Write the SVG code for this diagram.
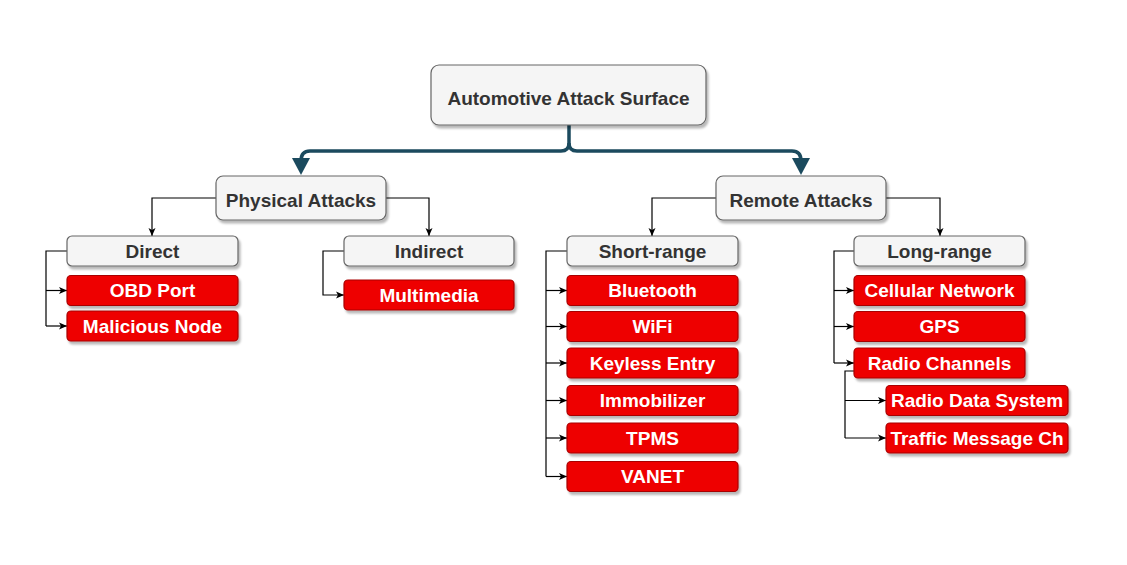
<svg xmlns="http://www.w3.org/2000/svg" width="1127" height="565" viewBox="0 0 1127 565">
<defs>
<filter id="sh" x="-10%" y="-20%" width="130%" height="160%">
<feDropShadow dx="2" dy="3" stdDeviation="1.2" flood-color="#000" flood-opacity="0.28"/>
</filter>
<marker id="ar" markerWidth="8" markerHeight="8" viewBox="0 0 8 8" refX="8" refY="4" orient="auto" markerUnits="userSpaceOnUse">
<path d="M0,0.5 L8,4 L0,7.5 L2,4 Z" fill="#000"/>
</marker>
</defs>
<style>
.g{fill:#f5f5f5;stroke:#666;stroke-width:1.2;filter:url(#sh)}
.r{fill:#ee0000;stroke:#a80000;stroke-width:1.2;filter:url(#sh)}
.tg{font-family:"Liberation Sans",Arial,sans-serif;font-weight:bold;font-size:19px;fill:#333;text-anchor:middle}
.tr{font-family:"Liberation Sans",Arial,sans-serif;font-weight:bold;font-size:19px;fill:#fff;text-anchor:middle}
.c{fill:none;stroke:#000;stroke-width:1.2}
.thick{fill:none;stroke:#1b4a5e;stroke-width:3.5;stroke-linejoin:round}
</style>
<rect width="1127" height="565" fill="#fff"/>

<g id="connectors">
<path class="thick" d="M569,125 V143 Q569,151 561,151 H310 Q301,151 301,161"/>
<path class="thick" d="M569,143 Q569,151 577,151 H792 Q801,151 801,161"/>
<polygon points="292,158 310,158 301,175" fill="#1b4a5e"/>
<polygon points="792,158 810,158 801,175" fill="#1b4a5e"/>

<path class="c" d="M216,198 H152 V236" marker-end="url(#ar)"/>
<path class="c" d="M386,198 H429 V236" marker-end="url(#ar)"/>
<path class="c" d="M716,198 H652 V236" marker-end="url(#ar)"/>
<path class="c" d="M886,198 H940 V236" marker-end="url(#ar)"/>

<path class="c" d="M67,251 H46 V326"/>
<path class="c" d="M46,290.5 H67" marker-end="url(#ar)"/>
<path class="c" d="M46,326 H67" marker-end="url(#ar)"/>

<path class="c" d="M344,251 H323 V295 H344" marker-end="url(#ar)"/>

<path class="c" d="M567,251 H546 V476.5"/>
<path class="c" d="M546,290.5 H567" marker-end="url(#ar)"/>
<path class="c" d="M546,326.5 H567" marker-end="url(#ar)"/>
<path class="c" d="M546,363 H567" marker-end="url(#ar)"/>
<path class="c" d="M546,400.5 H567" marker-end="url(#ar)"/>
<path class="c" d="M546,438 H567" marker-end="url(#ar)"/>
<path class="c" d="M546,476.5 H567" marker-end="url(#ar)"/>

<path class="c" d="M854,251 H834 V363"/>
<path class="c" d="M834,290.5 H854" marker-end="url(#ar)"/>
<path class="c" d="M834,326.5 H854" marker-end="url(#ar)"/>
<path class="c" d="M834,363 H854" marker-end="url(#ar)"/>

<path class="c" d="M854,371 H845 V438"/>
<path class="c" d="M845,400.5 H886" marker-end="url(#ar)"/>
<path class="c" d="M845,438 H886" marker-end="url(#ar)"/>
</g>

<g id="root"><rect class="g" x="431" y="65" width="275" height="60" rx="8"/><text class="tg" x="568.5" y="104.5">Automotive Attack Surface</text></g>
<g id="physical"><rect class="g" x="216" y="176" width="170" height="44" rx="7"/><text class="tg" x="301" y="206.5">Physical Attacks</text></g>
<g id="remote"><rect class="g" x="716" y="176" width="170" height="44" rx="7"/><text class="tg" x="801" y="206.5">Remote Attacks</text></g>

<g id="direct"><rect class="g" x="67" y="236" width="171" height="30" rx="5"/><text class="tg" x="152.5" y="257.5">Direct</text></g>
<g id="indirect"><rect class="g" x="344" y="236" width="170" height="30" rx="5"/><text class="tg" x="429" y="257.5">Indirect</text></g>
<g id="shortrange"><rect class="g" x="567" y="236" width="171" height="30" rx="5"/><text class="tg" x="652.5" y="257.5">Short-range</text></g>
<g id="longrange"><rect class="g" x="854" y="236" width="171" height="30" rx="5"/><text class="tg" x="939.5" y="257.5">Long-range</text></g>

<g id="obd"><rect class="r" x="67" y="275.5" width="171" height="30" rx="4"/><text class="tr" x="152.5" y="297">OBD Port</text></g>
<g id="malicious"><rect class="r" x="67" y="311" width="171" height="30" rx="4"/><text class="tr" x="152.5" y="332.5">Malicious Node</text></g>
<g id="multimedia"><rect class="r" x="344" y="280" width="170" height="30" rx="4"/><text class="tr" x="429" y="301.5">Multimedia</text></g>

<g id="bluetooth"><rect class="r" x="567" y="275.5" width="171" height="30" rx="4"/><text class="tr" x="652.5" y="297">Bluetooth</text></g>
<g id="wifi"><rect class="r" x="567" y="311.5" width="171" height="30" rx="4"/><text class="tr" x="652.5" y="333">WiFi</text></g>
<g id="keyless"><rect class="r" x="567" y="348" width="171" height="30" rx="4"/><text class="tr" x="652.5" y="369.5">Keyless Entry</text></g>
<g id="immobilizer"><rect class="r" x="567" y="385.5" width="171" height="30" rx="4"/><text class="tr" x="652.5" y="407">Immobilizer</text></g>
<g id="tpms"><rect class="r" x="567" y="423" width="171" height="30" rx="4"/><text class="tr" x="652.5" y="444.5">TPMS</text></g>
<g id="vanet"><rect class="r" x="567" y="461.5" width="171" height="30" rx="4"/><text class="tr" x="652.5" y="483">VANET</text></g>

<g id="cellular"><rect class="r" x="854" y="275.5" width="171" height="30" rx="4"/><text class="tr" x="939.5" y="297">Cellular Network</text></g>
<g id="gps"><rect class="r" x="854" y="311.5" width="171" height="30" rx="4"/><text class="tr" x="939.5" y="333">GPS</text></g>
<g id="radio"><rect class="r" x="854" y="348" width="171" height="30" rx="4"/><text class="tr" x="939.5" y="369.5">Radio Channels</text></g>
<g id="rds"><rect class="r" x="886" y="385.5" width="182" height="30" rx="4"/><text class="tr" x="977" y="407">Radio Data System</text></g>
<g id="tmc"><rect class="r" x="886" y="423" width="182" height="30" rx="4"/><text class="tr" x="977" y="444.5">Traffic Message Ch</text></g>
</svg>
